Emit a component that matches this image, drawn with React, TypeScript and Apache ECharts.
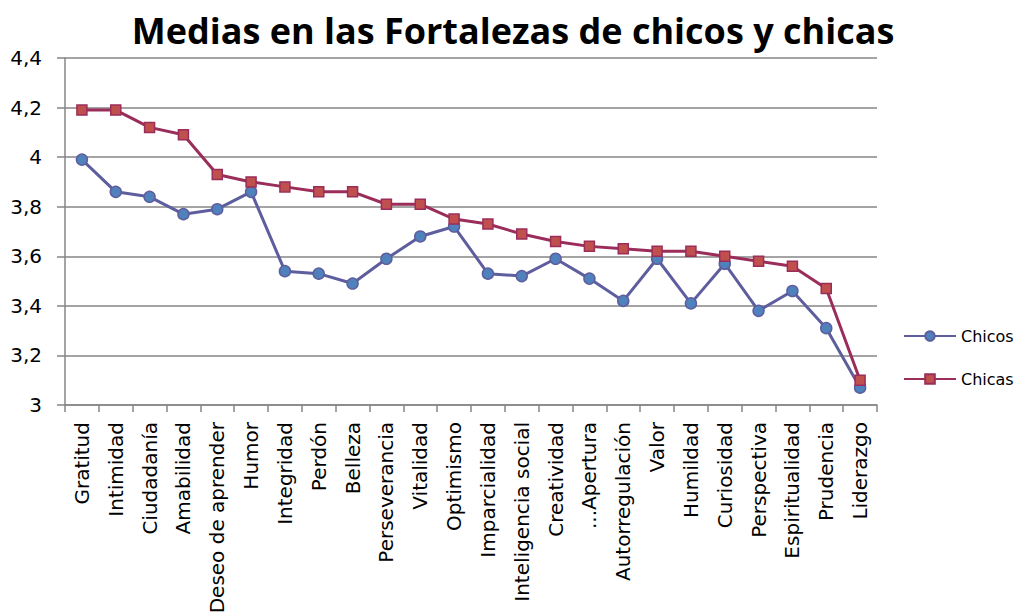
import React, { useEffect, useRef } from "react";
import * as echarts from "echarts";

const categories = [
  "Gratitud", "Intimidad", "Ciudadanía", "Amabilidad", "Deseo de aprender", "Humor",
  "Integridad", "Perdón", "Belleza", "Perseverancia", "Vitalidad", "Optimismo",
  "Imparcialidad", "Inteligencia social", "Creatividad", "...Apertura", "Autorregulación",
  "Valor", "Humildad", "Curiosidad", "Perspectiva", "Espiritualidad", "Prudencia", "Liderazgo",
];

const chicos = [
  3.99, 3.86, 3.84, 3.77, 3.79, 3.86, 3.54, 3.53, 3.49, 3.59, 3.68, 3.72,
  3.53, 3.52, 3.59, 3.51, 3.42, 3.59, 3.41, 3.57, 3.38, 3.46, 3.31, 3.07,
];

const chicas = [
  4.19, 4.19, 4.12, 4.09, 3.93, 3.9, 3.88, 3.86, 3.86, 3.81, 3.81, 3.75,
  3.73, 3.69, 3.66, 3.64, 3.63, 3.62, 3.62, 3.6, 3.58, 3.56, 3.47, 3.1,
];

const yMin = 3;
const yMax = 4.4;
const yStep = 0.2;

export default function App() {
  const ref = useRef<HTMLDivElement>(null);

  useEffect(() => {
    if (!ref.current) return;
    const chart = echarts.init(ref.current, null, { renderer: "svg" });
    chart.setOption({
      animation: false,
      backgroundColor: "#ffffff",
      title: {
        text: "Medias en las Fortalezas de chicos y chicas",
        left: 508,
        top: 3,
        textAlign: "center",
        textStyle: {
          fontFamily: "Open Sans",
          fontWeight: "bold",
          fontSize: 36,
          lineHeight: 44,
          color: "#000000",
        },
      },
      legend: {
        orient: "vertical",
        left: 898,
        top: 323,
        itemWidth: 52,
        itemHeight: 12,
        itemGap: 27,
        textStyle: { fontFamily: "DejaVu Sans", fontSize: 16, color: "#000000" },
        data: ["Chicos", "Chicas"],
      },
      grid: {
        left: 65,
        right: 141,
        top: 58,
        bottom: 208,
        containLabel: false,
        outerBoundsMode: "none",
      },
      xAxis: {
        type: "category",
        data: categories,
        boundaryGap: true,
        axisLine: { lineStyle: { color: "#868686", width: 1.5 } },
        axisTick: { show: true, length: 7, alignWithLabel: false, lineStyle: { color: "#868686", width: 1.5 } },
        axisLabel: {
          rotate: 90,
          interval: 0,
          margin: 17,
          fontFamily: "DejaVu Sans",
          fontSize: 20,
          color: "#000000",
        },
        splitLine: { show: false },
      },
      yAxis: {
        type: "value",
        min: yMin,
        max: yMax,
        interval: yStep,
        axisLine: { show: true, lineStyle: { color: "#868686", width: 1.5 } },
        axisTick: { show: true, length: 8, lineStyle: { color: "#868686", width: 1.5 } },
        axisLabel: {
          margin: 23,
          fontFamily: "DejaVu Sans",
          fontSize: 20,
          color: "#000000",
          formatter: (v: number) => String(Math.round(v * 10) / 10).replace(".", ","),
        },
        splitLine: { show: true, lineStyle: { color: "#868686", width: 1.5 } },
      },
      series: [
        {
          name: "Chicos",
          type: "line",
          data: chicos,
          symbol: "circle",
          symbolSize: 11,
          lineStyle: { color: "#5E5E9E", width: 3 },
          itemStyle: { color: "#4F81BD", borderColor: "#5E5E9E", borderWidth: 1.5 },
          z: 2,
        },
        {
          name: "Chicas",
          type: "line",
          data: chicas,
          symbol: "rect",
          symbolSize: 10,
          lineStyle: { color: "#9B2D5A", width: 3 },
          itemStyle: { color: "#C0504D", borderColor: "#9B2D5A", borderWidth: 1.5 },
          z: 3,
        },
      ],
    });
    return () => chart.dispose();
  }, []);

  return <div ref={ref} style={{ width: 1018, height: 613, position: "absolute", left: 0, top: 0 }} />;
}
